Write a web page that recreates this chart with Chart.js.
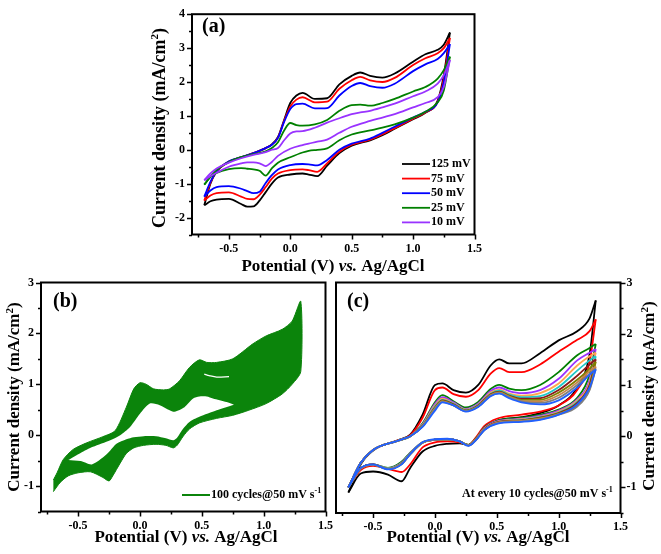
<!DOCTYPE html>
<html>
<head>
<meta charset="utf-8">
<script src="https://cdn.jsdelivr.net/npm/chart.js@4.4.1/dist/chart.umd.min.js"></script>
<style>
  html, body { margin: 0; padding: 0; background: #ffffff; }
  #wrap { position: relative; width: 661px; height: 554px; overflow: hidden; background: #fff; }
  canvas { position: absolute; left: 0; top: 0; }
</style>
</head>
<body>
<div id="wrap">
  <canvas id="chartA" width="661" height="554"></canvas>
  <canvas id="chartB" width="661" height="554"></canvas>
  <canvas id="chartC" width="661" height="554"></canvas>
</div>
<script>
// ================= DATA =================
// shared tick labels
const xTickValues = [-0.5, 0.0, 0.5, 1.0, 1.5];
const yTicksA = [-2, -1, 0, 1, 2, 3, 4];
const yTicksBC = [-1, 0, 1, 2, 3];

// ---- panel (a): scan-rate series ----
const scanRates = ['125 mV', '75 mV', '50 mV', '25 mV', '10 mV'];
const colorsA = ['#000000', '#ff0000', '#0000ff', '#008000', '#9933ff'];
const potFwdA = [-0.7, -0.65, -0.6, -0.5, -0.4, -0.3, -0.2, -0.15, -0.1, -0.05, 0.0, 0.05, 0.1, 0.2, 0.3, 0.4, 0.5, 0.57, 0.65, 0.75, 0.85, 1.0, 1.1, 1.2, 1.25, 1.3];
const potRevA = [1.3, 1.25, 1.2, 1.1, 1.0, 0.85, 0.75, 0.65, 0.5, 0.4, 0.3, 0.22, 0.15, 0.1, 0.0, -0.1, -0.15, -0.2, -0.25, -0.3, -0.35, -0.4, -0.5, -0.6, -0.65, -0.7];
const fwd125 = [-1.64, -1.0, -0.65, -0.36, -0.23, -0.1, 0.05, 0.16, 0.38, 0.88, 1.38, 1.6, 1.68, 1.5, 1.52, 1.93, 2.18, 2.28, 2.18, 2.13, 2.25, 2.6, 2.82, 2.95, 3.1, 3.46];
const rev125 = [3.46, 2.2, 1.45, 1.09, 0.9, 0.62, 0.43, 0.28, 0.12, -0.1, -0.47, -0.78, -0.73, -0.7, -0.73, -0.82, -1.0, -1.25, -1.5, -1.67, -1.68, -1.6, -1.45, -1.47, -1.52, -1.64];
const fwd75 = [-1.5, -0.98, -0.64, -0.35, -0.22, -0.1, 0.05, 0.15, 0.36, 0.85, 1.28, 1.48, 1.55, 1.4, 1.42, 1.8, 2.05, 2.15, 2.05, 2.0, 2.12, 2.5, 2.7, 2.85, 3.0, 3.3];
const rev75 = [3.3, 2.1, 1.42, 1.1, 0.92, 0.64, 0.46, 0.3, 0.15, -0.06, -0.4, -0.65, -0.6, -0.58, -0.6, -0.7, -0.85, -1.1, -1.33, -1.46, -1.45, -1.38, -1.26, -1.28, -1.35, -1.5];
const fwd50 = [-1.38, -0.95, -0.63, -0.34, -0.22, -0.1, 0.05, 0.15, 0.35, 0.82, 1.2, 1.35, 1.36, 1.22, 1.23, 1.6, 1.88, 1.97, 1.88, 1.83, 1.95, 2.32, 2.52, 2.68, 2.85, 3.12];
const rev50 = [3.12, 2.0, 1.4, 1.12, 0.95, 0.68, 0.5, 0.33, 0.18, 0.0, -0.3, -0.46, -0.43, -0.42, -0.45, -0.58, -0.75, -0.98, -1.24, -1.28, -1.22, -1.15, -1.07, -1.1, -1.2, -1.38];
const fwd25 = [-1.03, -0.8, -0.6, -0.36, -0.22, -0.13, -0.05, 0.05, 0.22, 0.57, 0.79, 0.73, 0.71, 0.75, 0.88, 1.15, 1.32, 1.33, 1.3, 1.38, 1.5, 1.72, 1.85, 2.1, 2.35, 2.75];
const rev25 = [2.75, 1.75, 1.4, 1.12, 0.95, 0.75, 0.65, 0.57, 0.45, 0.28, 0.04, 0.0, -0.03, -0.08, -0.22, -0.38, -0.55, -0.76, -0.62, -0.58, -0.56, -0.54, -0.57, -0.68, -0.8, -1.03];
const fwd10 = [-0.9, -0.7, -0.55, -0.38, -0.25, -0.15, -0.07, 0.0, 0.05, 0.28, 0.48, 0.54, 0.55, 0.65, 0.8, 0.93, 1.05, 1.1, 1.15, 1.25, 1.36, 1.58, 1.72, 1.95, 2.2, 2.65];
const rev10 = [2.65, 1.85, 1.55, 1.38, 1.25, 1.05, 0.95, 0.85, 0.68, 0.5, 0.3, 0.24, 0.18, 0.14, 0.03, -0.18, -0.36, -0.48, -0.4, -0.37, -0.37, -0.4, -0.5, -0.68, -0.78, -0.9];

// ---- panel (b): envelope of 100 overlapped cycles ----
const bandTopE = [-0.7, -0.67, -0.62, -0.54, -0.43, -0.3, -0.2, -0.11, -0.05, 0.0, 0.05, 0.11, 0.19, 0.24, 0.32, 0.4, 0.48, 0.54, 0.62, 0.75, 0.91, 1.02, 1.15, 1.23, 1.3];
const bandTopJ = [-0.88, -0.74, -0.48, -0.28, -0.15, -0.03, 0.09, 0.55, 0.91, 1.03, 1.0, 0.91, 0.89, 0.91, 1.07, 1.33, 1.48, 1.43, 1.43, 1.5, 1.79, 1.95, 2.08, 2.24, 2.63];
const bandBottomE = [1.3, 1.23, 1.15, 1.02, 0.88, 0.75, 0.62, 0.48, 0.4, 0.35, 0.3, 0.27, 0.21, 0.13, 0.03, -0.05, -0.11, -0.16, -0.22, -0.25, -0.3, -0.4, -0.5, -0.58, -0.645, -0.7];
const bandBottomJ = [1.25, 1.0, 0.81, 0.62, 0.49, 0.39, 0.33, 0.24, 0.12, -0.02, -0.2, -0.25, -0.2, -0.18, -0.2, -0.25, -0.36, -0.55, -0.8, -0.9, -0.83, -0.72, -0.74, -0.8, -0.93, -1.11];
const holeTopE = [-0.58, -0.48, -0.38, -0.24, -0.16, -0.08, 0.0, 0.08, 0.16, 0.24, 0.28, 0.36, 0.43, 0.48, 0.54, 0.59, 0.7, 0.76];
const holeTopJ = [-0.49, -0.35, -0.23, -0.1, 0.0, 0.16, 0.42, 0.62, 0.59, 0.49, 0.46, 0.55, 0.72, 0.76, 0.76, 0.72, 0.65, 0.6];
const holeBottomE = [0.76, 0.62, 0.48, 0.4, 0.35, 0.3, 0.27, 0.21, 0.13, 0.03, -0.05, -0.11, -0.19, -0.24, -0.3, -0.39, -0.48, -0.58];
const holeBottomJ = [0.6, 0.49, 0.36, 0.26, 0.13, -0.05, -0.1, -0.06, -0.02, -0.02, -0.04, -0.08, -0.17, -0.3, -0.44, -0.575, -0.51, -0.49];
const gapE = [0.52, 0.56, 0.62, 0.72];
const gapJ = [1.2, 1.17, 1.14, 1.15];

// ---- panel (c): every 10 cycles ----
const cycleLabels = ['1', '10', '20', '30', '40', '50', '60', '70', '80', '90', '100'];
const colorsC = ['#000000', '#ff0000', '#008000', '#9933ff', '#ffa64d', '#1fc8c8', '#8b1a1a', '#808000', '#c8864a', '#7f7f7f', '#2060ff'];
const potFwdC = [-0.7, -0.6, -0.5, -0.3, -0.2, -0.1, 0.0, 0.06, 0.15, 0.25, 0.35, 0.45, 0.52, 0.6, 0.7, 0.85, 1.0, 1.15, 1.25, 1.3];
const potRevC = [1.3, 1.25, 1.15, 1.0, 0.85, 0.7, 0.5, 0.4, 0.33, 0.27, 0.2, 0.1, 0.0, -0.1, -0.2, -0.27, -0.38, -0.5, -0.6, -0.7];
const fwdCyc1 = [-1.1, -0.55, -0.28, -0.08, 0.03, 0.42, 1.0, 1.03, 0.9, 0.85, 1.0, 1.38, 1.5, 1.42, 1.42, 1.62, 1.87, 2.05, 2.3, 2.65];
const revCyc1 = [2.65, 1.6, 0.95, 0.6, 0.45, 0.37, 0.3, 0.15, -0.05, -0.17, -0.14, -0.15, -0.19, -0.3, -0.62, -0.88, -0.75, -0.69, -0.73, -1.1];
const fwdCyc10 = [-1.0, -0.52, -0.27, -0.08, 0.02, 0.36, 0.9, 0.95, 0.82, 0.77, 0.9, 1.22, 1.33, 1.25, 1.25, 1.4, 1.65, 1.88, 2.05, 2.28];
const revCyc10 = [2.28, 1.45, 0.9, 0.6, 0.48, 0.42, 0.34, 0.2, -0.03, -0.17, -0.12, -0.1, -0.12, -0.22, -0.55, -0.7, -0.64, -0.58, -0.66, -1.0];
const fwdCyc20 = [-1.0, -0.52, -0.27, -0.09, 0.0, 0.25, 0.66, 0.8, 0.68, 0.56, 0.67, 0.92, 1.0, 0.93, 0.9, 1.0, 1.25, 1.58, 1.72, 1.8];
const revCyc20 = [1.8, 1.2, 0.75, 0.52, 0.42, 0.36, 0.3, 0.17, -0.05, -0.17, -0.1, -0.06, -0.07, -0.12, -0.32, -0.5, -0.62, -0.55, -0.63, -1.0];
const fwdCyc30 = [-1.0, -0.52, -0.27, -0.09, 0.0, 0.23, 0.63, 0.76, 0.66, 0.53, 0.64, 0.88, 0.95, 0.88, 0.84, 0.9, 1.12, 1.48, 1.63, 1.7];
const revCyc30 = [1.7, 1.1, 0.72, 0.5, 0.4, 0.34, 0.29, 0.16, -0.06, -0.18, -0.1, -0.06, -0.07, -0.12, -0.33, -0.52, -0.63, -0.55, -0.63, -1.0];
const fwdCyc40 = [-1.0, -0.52, -0.27, -0.09, 0.0, 0.22, 0.6, 0.73, 0.64, 0.52, 0.62, 0.85, 0.91, 0.83, 0.79, 0.84, 1.03, 1.38, 1.56, 1.63];
const revCyc40 = [1.63, 1.05, 0.7, 0.48, 0.38, 0.33, 0.28, 0.15, -0.06, -0.18, -0.1, -0.06, -0.07, -0.12, -0.34, -0.53, -0.63, -0.55, -0.63, -1.0];
const fwdCyc50 = [-1.0, -0.52, -0.27, -0.09, 0.0, 0.21, 0.58, 0.71, 0.63, 0.51, 0.61, 0.83, 0.89, 0.81, 0.76, 0.78, 0.96, 1.28, 1.48, 1.56];
const revCyc50 = [1.56, 1.0, 0.67, 0.46, 0.37, 0.32, 0.27, 0.14, -0.07, -0.18, -0.1, -0.06, -0.07, -0.12, -0.34, -0.53, -0.63, -0.55, -0.63, -1.0];
const fwdCyc60 = [-1.0, -0.52, -0.27, -0.09, 0.0, 0.2, 0.56, 0.7, 0.62, 0.5, 0.6, 0.82, 0.87, 0.79, 0.73, 0.74, 0.9, 1.18, 1.4, 1.5];
const revCyc60 = [1.5, 1.0, 0.65, 0.45, 0.36, 0.31, 0.27, 0.14, -0.07, -0.18, -0.1, -0.06, -0.07, -0.13, -0.35, -0.54, -0.64, -0.55, -0.63, -1.0];
const fwdCyc70 = [-1.0, -0.52, -0.27, -0.09, 0.0, 0.2, 0.55, 0.69, 0.61, 0.5, 0.59, 0.81, 0.86, 0.78, 0.71, 0.71, 0.85, 1.1, 1.32, 1.45];
const revCyc70 = [1.45, 0.95, 0.62, 0.44, 0.35, 0.3, 0.26, 0.13, -0.07, -0.18, -0.1, -0.06, -0.07, -0.13, -0.35, -0.54, -0.64, -0.56, -0.63, -1.0];
const fwdCyc80 = [-1.0, -0.52, -0.27, -0.09, 0.0, 0.19, 0.54, 0.68, 0.6, 0.49, 0.58, 0.8, 0.85, 0.77, 0.69, 0.68, 0.8, 1.05, 1.27, 1.36];
const revCyc80 = [1.36, 0.92, 0.6, 0.43, 0.34, 0.3, 0.26, 0.13, -0.07, -0.18, -0.1, -0.06, -0.07, -0.13, -0.35, -0.54, -0.64, -0.56, -0.63, -1.0];
const fwdCyc90 = [-1.0, -0.52, -0.27, -0.09, 0.0, 0.19, 0.53, 0.67, 0.6, 0.49, 0.58, 0.79, 0.84, 0.76, 0.68, 0.65, 0.75, 1.0, 1.22, 1.32];
const revCyc90 = [1.32, 0.9, 0.58, 0.42, 0.33, 0.29, 0.25, 0.12, -0.08, -0.18, -0.1, -0.06, -0.07, -0.13, -0.35, -0.55, -0.64, -0.56, -0.63, -1.0];
const fwdCyc100 = [-1.0, -0.52, -0.27, -0.09, 0.0, 0.18, 0.5, 0.66, 0.6, 0.48, 0.57, 0.78, 0.83, 0.74, 0.66, 0.62, 0.7, 0.95, 1.2, 1.3];
const revCyc100 = [1.3, 0.95, 0.62, 0.42, 0.32, 0.28, 0.24, 0.12, -0.08, -0.19, -0.1, -0.05, -0.06, -0.12, -0.35, -0.55, -0.65, -0.55, -0.62, -1.0];

// ================= HELPERS =================
const W = 661, H = 554;
const SERIF = '"Liberation Serif", "Times New Roman", serif';
const toPts = (xs, ys) => xs.map((x, i) => ({ x: x, y: ys[i] }));

function cvDatasets(names, colors, potF, potR, fwdList, revList, width) {
  const out = [];
  names.forEach((n, i) => {
    const common = { borderColor: colors[i], backgroundColor: colors[i], borderWidth: width,
      pointRadius: 0, showLine: true, fill: false, cubicInterpolationMode: 'monotone', order: -i };
    out.push(Object.assign({ label: n + ' fwd', data: toPts(potF, fwdList[i]) }, common));
    out.push(Object.assign({ label: n + ' rev', data: toPts(potR, revList[i]) }, common));
  });
  return out;
}

function drawRuns(ctx, runs, x, y, align) {
  let total = 0;
  runs.forEach(r => { ctx.font = r.font; total += ctx.measureText(r.t).width; });
  let cx = align === 'center' ? x - total / 2 : (align === 'right' ? x - total : x);
  ctx.textAlign = 'left';
  runs.forEach(r => { ctx.font = r.font; ctx.fillText(r.t, cx, y + (r.dy || 0)); cx += ctx.measureText(r.t).width; });
}

const framePlugin = {
  id: 'frame',
  afterDatasetsDraw(chart, args, o) {
    const { ctx, chartArea: a, scales } = chart;
    const sx = scales.x, sy = scales.y;
    ctx.save();
    ctx.strokeStyle = '#000';
    ctx.lineWidth = 2;
    ctx.strokeRect(a.left, a.top, a.right - a.left, a.bottom - a.top);
    ctx.lineWidth = 1.5;
    ctx.beginPath();
    for (let v = -0.75; v <= 1.5001; v += 0.25) {
      const px = Math.round(sx.getPixelForValue(v)) + 0.5;
      const major = Math.abs(v / 0.5 - Math.round(v / 0.5)) < 1e-6;
      ctx.moveTo(px, a.bottom);
      ctx.lineTo(px, a.bottom + (major ? 5 : 3));
    }
    const yMin = sy.min, yMax = sy.max;
    for (let v = Math.ceil(yMin * 2) / 2; v <= yMax + 1e-6; v += 0.5) {
      const py = Math.round(sy.getPixelForValue(v)) + 0.5;
      const major = Math.abs(v - Math.round(v)) < 1e-6;
      const len = major ? 5 : 3;
      if (o.side === 'right') { ctx.moveTo(a.right, py); ctx.lineTo(a.right + len, py); }
      else { ctx.moveTo(a.left, py); ctx.lineTo(a.left - len, py); }
    }
    ctx.stroke();
    ctx.restore();
  }
};

const textPlugin = {
  id: 'panelText',
  afterDraw(chart, args, o) {
    const ctx = chart.ctx;
    ctx.save();
    ctx.fillStyle = '#000';
    ctx.textBaseline = 'middle';
    ctx.font = 'bold 20px ' + SERIF;
    ctx.textAlign = 'left';
    ctx.fillText(o.label, o.labelX, o.labelY);
    drawRuns(ctx, [
      { t: 'Potential (V) ', font: 'bold 17px ' + SERIF },
      { t: 'vs.', font: 'italic bold 17px ' + SERIF },
      { t: ' Ag/AgCl', font: 'bold 17px ' + SERIF }
    ], o.xTitleX, o.xTitleY, 'center');
    ctx.save();
    ctx.translate(o.yTitleX, o.yTitleY);
    ctx.rotate(-Math.PI / 2);
    drawRuns(ctx, [
      { t: 'Current density (mA/cm', font: 'bold ' + o.ySize + 'px ' + SERIF },
      { t: '2', font: 'bold 11px ' + SERIF, dy: -5 },
      { t: ')', font: 'bold ' + o.ySize + 'px ' + SERIF }
    ], 0, 0, 'center');
    ctx.restore();
    if (o.legend) o.legend(ctx, chart);
    ctx.restore();
  }
};

function makeChart(id, box, yMin, yMax, yTicks, side, datasets, textOpts) {
  const yWidth = side === 'left' ? box.l : W - box.r;
  const tickFont = { family: SERIF, weight: 'bold', size: 12 };
  return new Chart(document.getElementById(id), {
    type: 'scatter',
    data: { datasets: datasets },
    options: {
      responsive: false, animation: false, events: [],
      layout: { padding: { left: side === 'left' ? 0 : box.l, top: box.t,
                           right: side === 'right' ? 0 : W - box.r, bottom: 0 } },
      plugins: { legend: { display: false }, tooltip: { enabled: false },
        frame: { side: side }, panelText: textOpts },
      scales: {
        x: {
          type: 'linear', min: -0.8, max: 1.5,
          afterFit: s => { s.height = H - box.b; },
          afterBuildTicks: s => { s.ticks = xTickValues.map(v => ({ value: v })); },
          grid: { display: false, drawTicks: false, tickLength: 0 }, border: { display: false },
          ticks: { autoSkip: false, maxRotation: 0, padding: 7, color: '#000', font: tickFont,
            callback: v => Number(v).toFixed(1) }
        },
        y: {
          type: 'linear', position: side, min: yMin, max: yMax,
          afterFit: s => { s.width = yWidth; },
          afterBuildTicks: s => { s.ticks = yTicks.map(v => ({ value: v })); },
          grid: { display: false, drawTicks: false, tickLength: 0 }, border: { display: false },
          ticks: { autoSkip: false, padding: side === 'left' ? 7 : 6, color: '#000', font: tickFont,
            callback: v => String(v) }
        }
      }
    },
    plugins: [framePlugin, textPlugin]
  });
}

// ================= PANEL (a) =================
makeChart('chartA', { l: 192, r: 474.5, t: 5.5, b: 234.5 }, -2.5, 4, yTicksA, 'left',
  cvDatasets(scanRates, colorsA, potFwdA, potRevA,
    [fwd125, fwd75, fwd50, fwd25, fwd10], [rev125, rev75, rev50, rev25, rev10], 1.8),
  { label: '(a)', labelX: 202, labelY: 27, xTitleX: 333, xTitleY: 267, yTitleX: 160, yTitleY: 128, ySize: 18,
    legend: (ctx) => {
      scanRates.forEach((n, i) => {
        const y = 164 + i * 14.6;
        ctx.strokeStyle = colorsA[i]; ctx.lineWidth = 1.8;
        ctx.beginPath(); ctx.moveTo(402, y); ctx.lineTo(430, y); ctx.stroke();
        ctx.font = 'bold 12px ' + SERIF; ctx.textAlign = 'left';
        ctx.fillText(n, 431, y);
      });
    } });

// ================= PANEL (b) =================
const bandLoopE = bandTopE.concat(bandBottomE);
const bandLoopJ = bandTopJ.concat(bandBottomJ);
const holeLoopE = holeTopE.concat(holeBottomE);
const holeLoopJ = holeTopJ.concat(holeBottomJ);
makeChart('chartB', { l: 41, r: 325.5, t: 282.5, b: 511.5 }, -1.5, 3, yTicksBC, 'left', [
  { label: '100 cycles', data: toPts(bandLoopE, bandLoopJ), showLine: true, pointRadius: 0,
    borderColor: '#0b840b', backgroundColor: '#0b840b', borderWidth: 1, tension: 0.25, fill: 'shape', order: 3 },
  { label: 'inner', data: toPts(holeLoopE, holeLoopJ), showLine: true, pointRadius: 0,
    borderColor: 'rgba(255,255,255,0)', backgroundColor: '#ffffff', borderWidth: 0, tension: 0.25, fill: 'shape', order: 2 },
  { label: 'gap', data: toPts(gapE, gapJ), showLine: true, pointRadius: 0,
    borderColor: '#ffffff', borderWidth: 1.3, tension: 0.3, fill: false, order: 1 }
], { label: '(b)', labelX: 53, labelY: 302, xTitleX: 186, xTitleY: 538, yTitleX: 15, yTitleY: 397, ySize: 17,
  legend: (ctx) => {
    ctx.strokeStyle = '#0b840b'; ctx.lineWidth = 2;
    ctx.beginPath(); ctx.moveTo(182, 495); ctx.lineTo(210, 495); ctx.stroke();
    drawRuns(ctx, [
      { t: '100 cycles@50 mV s', font: 'bold 12px ' + SERIF },
      { t: '-1', font: 'bold 8px ' + SERIF, dy: -4 }
    ], 211, 495, 'left');
  } });

// ================= PANEL (c) =================
makeChart('chartC', { l: 336, r: 620.5, t: 282.5, b: 513 }, -1.5, 3, yTicksBC, 'right',
  cvDatasets(cycleLabels, colorsC, potFwdC, potRevC,
    [fwdCyc1, fwdCyc10, fwdCyc20, fwdCyc30, fwdCyc40, fwdCyc50, fwdCyc60, fwdCyc70, fwdCyc80, fwdCyc90, fwdCyc100],
    [revCyc1, revCyc10, revCyc20, revCyc30, revCyc40, revCyc50, revCyc60, revCyc70, revCyc80, revCyc90, revCyc100], 1.8),
  { label: '(c)', labelX: 347, labelY: 302, xTitleX: 478, xTitleY: 538, yTitleX: 650, yTitleY: 396, ySize: 17,
    legend: (ctx) => {
      drawRuns(ctx, [
        { t: 'At every 10 cycles@50 mV s', font: 'bold 12px ' + SERIF },
        { t: '-1', font: 'bold 8px ' + SERIF, dy: -4 }
      ], 462, 494, 'left');
    } });
</script>
</body>
</html>
